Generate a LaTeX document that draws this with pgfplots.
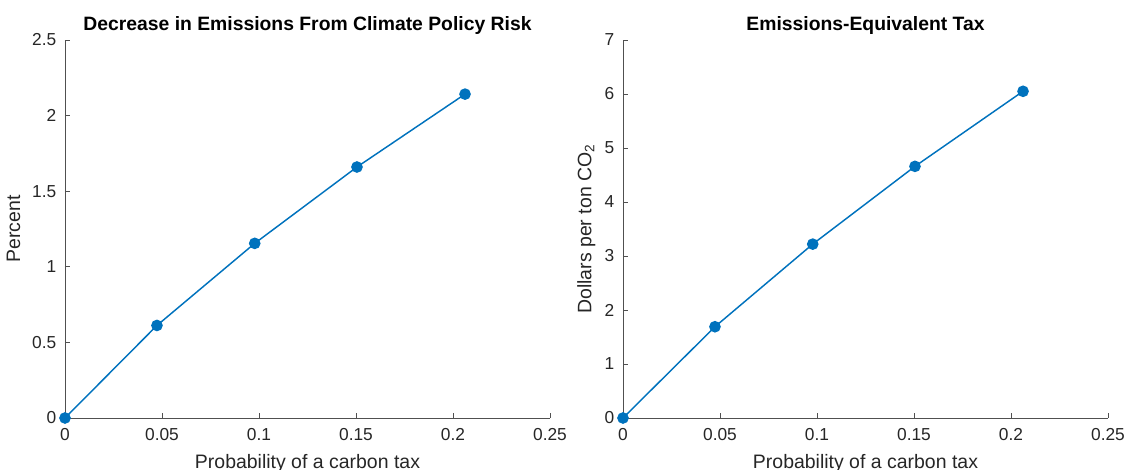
\documentclass[border=0pt]{standalone}
\usepackage{pgfplots}
\pgfplotsset{compat=1.18}
\usepackage{fontspec}
\setmainfont{Liberation Sans}
\definecolor{mblue}{RGB}{0,114,189}
\definecolor{axgray}{RGB}{80,80,80}
\pgfplotsset{
  mstyle/.style={
    scale only axis,
    width=363.75pt, height=283.5pt,
    axis x line=bottom, axis y line=left,
    axis line style={axgray, -, line width=0.6pt},
    tick style={axgray, line width=0.6pt},
    tick align=inside,
    major tick length=4pt,
    xmin=0, xmax=0.25,
    xtick={0,0.05,0.1,0.15,0.2,0.25},
    xticklabels={0,0.05,0.1,0.15,0.2,0.25},
    ymin=0,
    tick label style={font=\fontsize{13}{15}\selectfont, text=black!85},
    /pgf/number format/assume math mode=true,
    xticklabel style={yshift=-4pt},
    yticklabel style={xshift=-3pt},
    label style={font=\fontsize{14.6}{17}\selectfont, text=black!85},
    xlabel={Probability of a carbon tax},
    xlabel style={yshift=-4pt},
    title style={font=\bfseries\fontsize{14.5}{17}\selectfont, yshift=-5.5pt},
  },
  mplot/.style={color=mblue, line width=1.1pt, mark=*, mark size=3.8pt, mark options={fill=mblue, draw=mblue, solid}},
}
\begin{document}
\begin{tikzpicture}
\path[use as bounding box] (-48.75pt,-39pt) rectangle (795pt,313.5pt);
\begin{axis}[mstyle, at={(0,0)},
  ymax=2.5, ytick={0,0.5,1,1.5,2,2.5},
  yticklabels={0,0.5,1,1.5,2,2.5},
  ylabel={Percent}, ylabel style={yshift=2pt},
  title={Decrease in Emissions From Climate Policy Risk}]
\addplot[mplot] coordinates {(0,0) (0.0474,0.612) (0.0978,1.155) (0.1505,1.66) (0.2062,2.142)};
\end{axis}
\begin{axis}[mstyle, at={(418.5pt,0)},
  ymax=7, ytick={0,1,2,3,4,5,6,7},
  yticklabels={0,1,2,3,4,5,6,7},
  ylabel={Dollars per ton CO\textsubscript{2}},
  title={Emissions-Equivalent Tax}]
\addplot[mplot] coordinates {(0,0) (0.0474,1.69) (0.0978,3.22) (0.1505,4.66) (0.2062,6.05)};
\end{axis}
\end{tikzpicture}
\end{document}
